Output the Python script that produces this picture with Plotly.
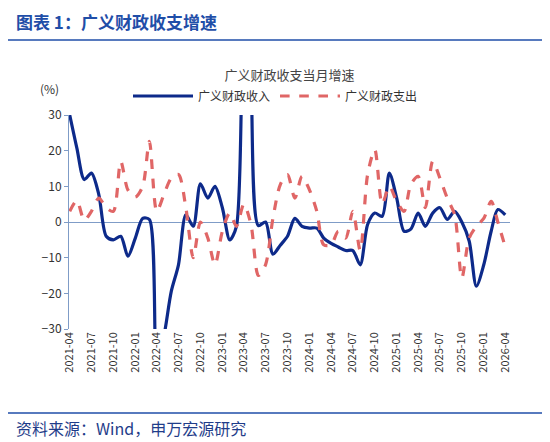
import plotly.graph_objects as go
import pandas as pd

months = pd.date_range("2021-04-01", "2026-04-01", freq="MS")
revenue = [30, 20.7, 11.9, 13.7, 7.7, -4, -5, -4, -9.6, -4.5, 1, 0.7, -40, -32, -19.4, -12,
           2, -1.2, 10.7, 6.7, 10, 4, -5, -1.2, 80, 40, -1, 0, -9, -6.5, -4, 1, -1.2, -1.7,
           -1.7, -4.5, -6, -7, -8, -8, -12, -0.7, 2.5, 1.6, 13.7, 6.7, -2.6, -2, 2.5, -1.2,
           2.5, 4, 0.7, 3, 0, -5.4, -18, -12, -2.6, 3.5, 2]
expend = [3, 6, 0.5, 3, 6.7, 4, 3, 17, 9, 7, 10, 22.6, 3, 7.7, 12.3, 13.3, 4, -10, 0, -4.5,
          -12, -2.6, 2.5, -1.2, 5, -0.7, -15, -12, 1, 10.5, 13.3, 6.7, 12.8, 9, 3, -6.4,
          -6.4, -2.6, -4.5, 3, -8, 13.3, 20.3, 5, 10, 5.8, 3, 10.5, 12.8, 4, 17, 12.3, 6.7,
          2, -15.7, -4.5, -1.2, 1, 5.8, 0, -7]
tick_vals = months[::3]
tick_text = [d.strftime("%Y-%m") for d in tick_vals]

H, W, T, B, L, R = 442, 550, 107, 121, 61, 48
ph = H - T - B
pw = W - L - R
def py(ypix):
    return (H - B - ypix) / ph
def px(xpix):
    return (xpix - L) / pw

fig = go.Figure()
fig.add_trace(go.Scatter(x=months, y=revenue, name="广义财政收入", mode="lines",
                         line=dict(color="#0d2a8a", width=3.2, shape="spline", smoothing=0.8)))
fig.add_trace(go.Scatter(x=months, y=expend, name="广义财政支出", mode="lines",
                         line=dict(color="#e06666", width=3.2, dash="dash", shape="spline", smoothing=0.8)))
fig.update_layout(
    width=W, height=H, paper_bgcolor="white", plot_bgcolor="white",
    margin=dict(l=L, r=R, t=T, b=B, autoexpand=False),
    font=dict(family="Noto Sans CJK SC", size=11, color="#333"),
    title=dict(text="广义财政收支当月增速", x=0.5, xanchor="center", xref="paper",
               y=1-67/H, yanchor="middle", yref="container",
               font=dict(size=13, color="#444")),
    legend=dict(orientation="h", x=px(120), xanchor="left", y=py(88), yanchor="middle",
                font=dict(size=12, color="#333"), itemwidth=60, tracegroupgap=0),
    showlegend=True,
    xaxis=dict(tickvals=tick_vals, ticktext=tick_text, tickangle=-90, showgrid=False,
               range=[months[0] - pd.Timedelta(days=3), months[-1] + pd.Timedelta(days=20)],
               tickfont=dict(size=11, color="#333"), ticks="", showline=False),
    yaxis=dict(range=[-30, 30], dtick=10, showgrid=False, showline=True, linecolor="#7f9cc7",
               ticks="outside", ticklen=4, tickcolor="#7f9cc7", zeroline=True,
               zerolinecolor="#7f9cc7", zerolinewidth=1, tickfont=dict(size=12, color="#333")),
    annotations=[
        dict(text="<b>图表 1：广义财政收支增速</b>", x=px(6), y=py(14), xref="paper", yref="paper",
             xanchor="left", yanchor="middle", showarrow=False,
             font=dict(size=17, color="#1f4ea8")),
        dict(text="(%)", x=px(30), y=py(80), xref="paper", yref="paper",
             xanchor="left", yanchor="middle", showarrow=False, font=dict(size=12, color="#333")),
        dict(text="资料来源：Wind，申万宏源研究", x=px(6), y=py(420), xref="paper", yref="paper",
             xanchor="left", yanchor="middle", showarrow=False, font=dict(size=16, color="#1f3d8a")),
    ],
    shapes=[
        dict(type="line", xref="paper", yref="paper", x0=px(0), x1=px(550), y0=py(32), y1=py(32),
             line=dict(color="#1f4ea8", width=1.5)),
        dict(type="line", xref="paper", yref="paper", x0=px(0), x1=px(550), y0=py(405), y1=py(405),
             line=dict(color="#1f4ea8", width=1.5)),
    ],
)
fig.write_html("out.html")
